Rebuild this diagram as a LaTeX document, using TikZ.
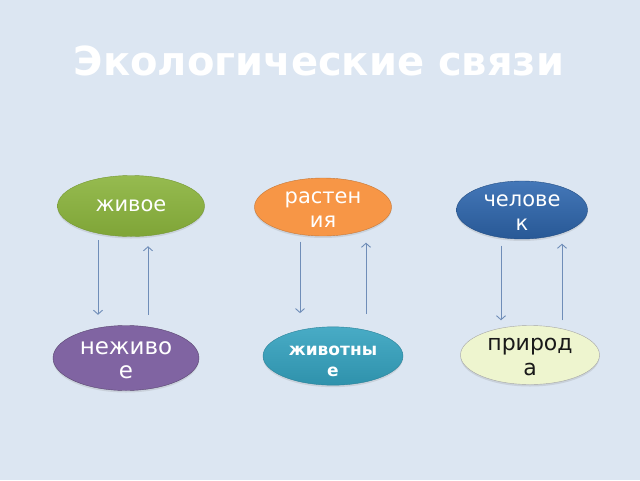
\documentclass[tikz,border=0pt]{standalone}
\usepackage{fontspec}
\setmainfont{DejaVu Sans}
\usetikzlibrary{shapes.geometric, arrows.meta, shadows}

\definecolor{slideBg}{HTML}{DCE6F2}
\definecolor{arrowBlue}{HTML}{6F8DB8}
\definecolor{livingGreen}{HTML}{8AB33C}
\definecolor{plantOrange}{HTML}{F79646}
\definecolor{humanBlue}{HTML}{2F68B0}
\definecolor{lifelessPurple}{HTML}{8064A2}
\definecolor{animalTeal}{HTML}{34A2BF}
\definecolor{natureLime}{HTML}{EEF5CF}

\begin{document}
\begin{tikzpicture}[x=1pt, y=-1pt]
  \tikzstyle{bubble} = [ellipse, inner sep = 0pt, align = center,
    font = \fontsize{21}{24}\selectfont, text = white,
    drop shadow = {opacity = 0.2, shadow xshift = 0pt, shadow yshift = -2pt}]
  \tikzstyle{twoLine} = [bubble, text height = 41pt]
  \tikzstyle{link} = [draw = arrowBlue, line width = 0.9pt, -{Straight Barb[length = 4pt, width = 9pt]}]

  % Background and title
  \fill[slideBg] (0, 0) rectangle (640, 480);
  \useasboundingbox (0, 0) rectangle (640, 480);
  \node[anchor = base, text = white, font = \bfseries\fontsize{40}{48}\selectfont] (title) at (319, 75) {Экологические связи};

  % Upper row
  \node[bubble, minimum width = 147pt, minimum height = 61pt, draw = livingGreen!85!black,
    top color = livingGreen!90!white, bottom color = livingGreen!92!black] (zhivoe) at (131, 206) {живое};
  \node[twoLine, minimum width = 137pt, minimum height = 55pt, draw = plantOrange!80!black, fill = plantOrange] (rastenia) at (323, 207) {растен\\ия};
  \node[twoLine, minimum width = 131pt, minimum height = 56pt, draw = humanBlue!75!black,
    top color = humanBlue!90!white, bottom color = humanBlue!85!black] (chelovek) at (522, 210) {челове\\к};

  % Lower row
  \node[twoLine, minimum width = 146pt, minimum height = 65pt, draw = lifelessPurple!70!black, fill = lifelessPurple,
    font = \fontsize{23}{24}\selectfont] (nezhivoe) at (126, 358) {неживо\\е};
  \node[twoLine, minimum width = 140pt, minimum height = 56pt, draw = animalTeal!80!black,
    top color = animalTeal!90!white, bottom color = animalTeal!90!black,
    font = \bfseries\fontsize{17}{21}\selectfont] (zhivotnye) at (333, 356) {животны\\е};
  \node[twoLine, minimum width = 139pt, minimum height = 59pt, draw = black!35, fill = natureLime,
    text = black!90, font = \fontsize{22}{25}\selectfont] (priroda) at (530, 355) {природ\\а};

  % Connections
  \draw[link, shorten <= 3.5pt, shorten >= 10.5pt] (zhivoe.south -| 98,0) -- (nezhivoe.north -| 98,0);
  \draw[link, shorten <= 10.5pt, shorten >= 9.5pt] (nezhivoe.north -| 148,0) -- (zhivoe.south -| 148,0);
  \draw[link, shorten <= 5.5pt, shorten >= 13.5pt] (rastenia.south -| 300,0) -- (zhivotnye.north -| 300,0);
  \draw[link, shorten <= 12.5pt, shorten >= 6.5pt] (zhivotnye.north -| 366,0) -- (rastenia.south -| 366,0);
  \draw[link, shorten <= 6.5pt, shorten >= 5pt] (chelovek.south -| 501,0) -- (priroda.north -| 501,0);
  \draw[link, shorten <= 5pt, shorten >= 4.5pt] (priroda.north -| 562,0) -- (chelovek.south -| 562,0);

\end{tikzpicture}
\end{document}
